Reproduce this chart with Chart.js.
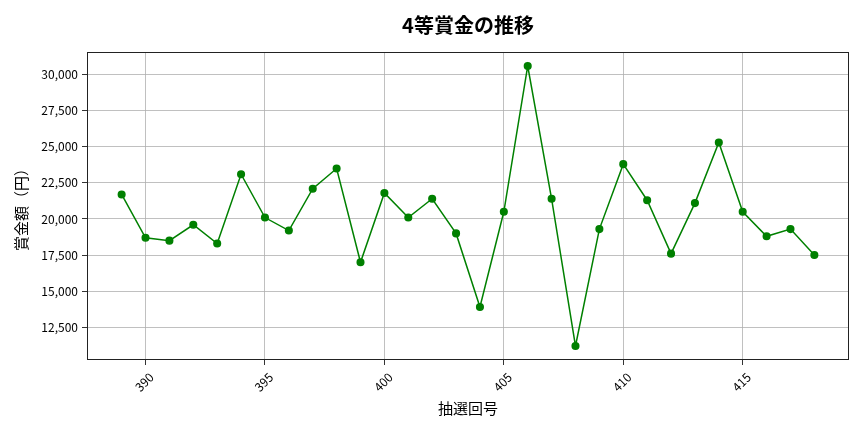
<!DOCTYPE html>
<html lang="ja">
<head>
<meta charset="utf-8">
<script src="https://cdn.jsdelivr.net/npm/chart.js@4/dist/chart.umd.min.js"></script>
<style>
  body { margin: 0; background: #fff; }
  #wrap { width: 864px; height: 432px; }
</style>
</head>
<body>
<div id="wrap"><canvas id="chart"></canvas></div>
<script>
// 抽選回号と4等賞金（円）
const kaigo = [389, 390, 391, 392, 393, 394, 395, 396, 397, 398,
  399, 400, 401, 402, 403, 404, 405, 406, 407, 408,
  409, 410, 411, 412, 413, 414, 415, 416, 417, 418];
const shokin = [21700, 18700, 18500, 19600, 18300, 23100, 20100, 19200, 22100, 23500,
  17000, 21800, 20100, 21400, 19000, 13900, 20500, 30600, 21400, 11200,
  19300, 23800, 21300, 17600, 21100, 25300, 20500, 18800, 19300, 17500];
const xTicks = [390, 395, 400, 405, 410, 415];
const yTicks = [12500, 15000, 17500, 20000, 22500, 25000, 27500, 30000];
const titulo = '4等賞金の推移';

const FONT = "'Noto Sans CJK JP', 'Noto Sans', sans-serif";
Chart.defaults.font.family = FONT;
Chart.defaults.color = '#000';

// 枠線（四辺）とグラフ上のタイトル
const frame = {
  id: 'frame',
  afterDatasetsDraw(chart) {
    const { ctx, chartArea: a } = chart;
    ctx.save();
    ctx.strokeStyle = '#222';
    ctx.lineWidth = 1;
    ctx.strokeRect(a.left + 0.5, a.top + 0.5, a.right - a.left - 1, a.bottom - a.top - 1);
    ctx.fillStyle = '#000';
    ctx.font = 'bold 20px ' + FONT;
    ctx.textAlign = 'center';
    ctx.textBaseline = 'middle';
    ctx.fillText(titulo, (a.left + a.right) / 2, 25);
    ctx.restore();
  }
};

new Chart(document.getElementById('chart'), {
  type: 'line',
  data: {
    datasets: [{
      data: kaigo.map((k, i) => ({ x: k, y: shokin[i] })),
      borderColor: '#008000',
      backgroundColor: '#008000',
      borderWidth: 1.5,
      pointRadius: 3.3,
      pointHoverRadius: 3.3,
      tension: 0
    }]
  },
  options: {
    responsive: true,
    maintainAspectRatio: false,
    animation: false,
    layout: { padding: { left: 0, right: 15, top: 52, bottom: 0 } },
    plugins: {
      legend: { display: false },
      tooltip: { enabled: false },
      title: { display: false }
    },
    scales: {
      x: {
        type: 'linear',
        min: 387.55,
        max: 419.45,
        afterBuildTicks: (s) => { s.ticks = xTicks.map(v => ({ value: v })); },
        afterFit: (s) => { s.height = 72; },
        ticks: {
          minRotation: 45,
          maxRotation: 45,
          padding: 5,
          labelOffset: 6,
          font: { size: 12 },
          callback: (v) => String(v)
        },
        grid: { color: '#b0b0b0', lineWidth: 0.8, tickLength: 5, tickColor: '#333', tickWidth: 1 },
        border: { display: false },
        title: {
          display: true,
          text: '抽選回号',
          font: { size: 15, family: FONT },
          padding: { bottom: 15 }
        }
      },
      y: {
        min: 10230,
        max: 31570,
        afterBuildTicks: (s) => { s.ticks = yTicks.map(v => ({ value: v })); },
        afterFit: (s) => { s.width = 87; },
        ticks: {
          padding: 4,
          font: { size: 12 },
          callback: (v) => v.toLocaleString('en-US')
        },
        grid: { color: '#b0b0b0', lineWidth: 0.8, tickLength: 5, tickColor: '#333', tickWidth: 1 },
        border: { display: false },
        title: {
          display: true,
          text: '賞金額（円）',
          font: { size: 15, family: FONT },
          padding: { top: 12 }
        }
      }
    }
  },
  plugins: [frame]
});
</script>
</body>
</html>
